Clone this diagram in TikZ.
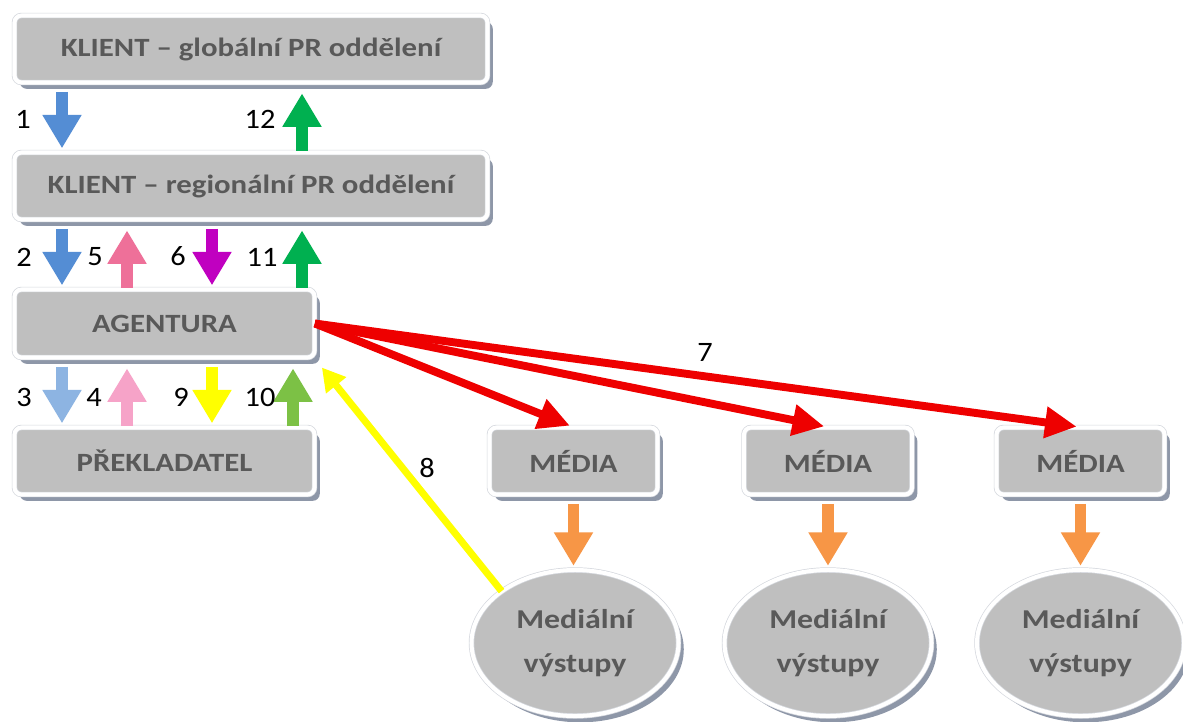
\documentclass[tikz,border=0pt]{standalone}
\usepackage{fontspec}
\setmainfont{Carlito}
\newfontfamily\boxfont[FakeStretch=1.17]{Carlito}
\newfontfamily\numfont[FakeStretch=1.08]{Carlito}
\usetikzlibrary{arrows.meta,shadows,shapes.geometric}
\definecolor{boxgray}{HTML}{BFBFBF}
\definecolor{boxtext}{HTML}{595959}
\definecolor{shadowc}{HTML}{8E97A8}
\definecolor{edgec}{HTML}{D5D8DE}
\definecolor{blueA}{HTML}{548DD4}
\definecolor{blueB}{HTML}{8DB4E2}
\definecolor{pinkA}{HTML}{EE7099}
\definecolor{pinkB}{HTML}{F6A3C8}
\definecolor{purpleA}{HTML}{C000C0}
\definecolor{greenA}{HTML}{00B050}
\definecolor{greenB}{HTML}{7CC145}
\definecolor{yellowA}{HTML}{FFFF00}
\definecolor{orangeA}{HTML}{F79646}
\definecolor{redA}{HTML}{EE0000}
\newcommand{\pxl}{0.02cm}
\begin{document}
\begin{tikzpicture}[x=0.02cm, y=-0.02cm,
  box/.style={rectangle, rounded corners=4pt, fill=boxgray, draw=edgec, line width=0.4pt,
    double=white, double distance=2.3pt, inner sep=0pt, text=boxtext,
    font=\boxfont\bfseries\fontsize{15}{17}\selectfont,
    drop shadow={shadow xshift=3pt, shadow yshift=-3.6pt, fill=shadowc, opacity=1}},
  oval/.style={box, ellipse, rounded corners=0pt, align=center,
    font=\boxfont\bfseries\fontsize{15.5}{25}\selectfont},
  fatdown/.style={line width=6.8pt, -{Triangle[width=21pt,length=19pt]}, shorten <=5.2pt, shorten >=2.2pt},
  fatup/.style={line width=6.8pt, -{Triangle[width=21pt,length=19pt]}, shorten <=0.8pt, shorten >=6pt},
  num/.style={font=\numfont\fontsize{16}{18}\selectfont, inner sep=0pt, text=black},
  redarrow/.style={draw=redA, line width=4.5pt, -{Triangle[width=17pt,length=18pt]}, shorten >=2.2pt},
  yelarrow/.style={draw=yellowA, line width=4pt, -{Triangle[width=14pt,length=13pt]}},
]
\path[use as bounding box, fill=white] (0,0) rectangle (1183,721);

% boxes
\node[box, minimum width=473*\pxl, minimum height=67*\pxl] (g) at (251,49) {KLIENT – globální PR oddělení};
\node[box, minimum width=473*\pxl, minimum height=67*\pxl] (r) at (251,186) {KLIENT – regionální PR oddělení};
\node[box, minimum width=300*\pxl, minimum height=68*\pxl] (a) at (164.5,323.5) {AGENTURA};
\node[box, minimum width=300*\pxl, minimum height=67*\pxl] (p) at (164.5,461) {PŘEKLADATEL};
\node[box, minimum width=168*\pxl, minimum height=67*\pxl] (m1) at (573.5,461) {MÉDIA};
\node[box, minimum width=168*\pxl, minimum height=67*\pxl] (m2) at (828,461) {MÉDIA};
\node[box, minimum width=168*\pxl, minimum height=67*\pxl] (m3) at (1080.5,461) {MÉDIA};
\node[oval, minimum width=207*\pxl, minimum height=146*\pxl] (e1) at (575,643) {Mediální\\výstupy};
\node[oval, minimum width=207*\pxl, minimum height=146*\pxl] (e2) at (828,643) {Mediální\\výstupy};
\node[oval, minimum width=207*\pxl, minimum height=146*\pxl] (e3) at (1080.5,643) {Mediální\\výstupy};

% columns for the fat arrows
\coordinate (c1) at (62,0);
\coordinate (c2) at (127,0);
\coordinate (c3) at (212,0);
\coordinate (c4) at (302,0);
\coordinate (c5) at (293,0);

\draw[fatdown, blueA] (g.south -| c1) -- (r.north -| c1);
\draw[fatup, greenA] (r.north -| c4) -- (g.south -| c4);
\draw[fatdown, blueA] (r.south -| c1) -- (a.north -| c1);
\draw[fatup, pinkA] (a.north -| c2) -- (r.south -| c2);
\draw[fatdown, purpleA] (r.south -| c3) -- (a.north -| c3);
\draw[fatup, greenA] (a.north -| c4) -- (r.south -| c4);
\draw[fatdown, blueB] (a.south -| c1) -- (p.north -| c1);
\draw[fatup, pinkB] (p.north -| c2) -- (a.south -| c2);
\draw[fatdown, yellowA] (a.south -| c3) -- (p.north -| c3);
\draw[fatup, greenB] (p.north -| c5) -- (a.south -| c5);

\draw[fatdown, orangeA] (m1.south) -- (m1.south |- e1.north);
\draw[fatdown, orangeA] (m2.south) -- (e2.north);
\draw[fatdown, orangeA] (m3.south) -- (e3.north);

\draw[redarrow] (a.east) -- (m1.north);
\draw[redarrow] (a.east) -- (m2.north);
\draw[redarrow] (a.east) -- (m3.north);

\draw[yelarrow] (e1.north west) -- ([xshift=4pt, yshift=-5.5pt]a.south east);

% labels
\node[num] (n1) at (23,119) {1};
\node[num] (n12) at (260,119) {12};
\node[num] (n2) at (24,257) {2};
\node[num] (n5) at (95,257) {5};
\node[num] (n6) at (178,256) {6};
\node[num] (n11) at (262,257) {11};
\node[num] (n3) at (24,397) {3};
\node[num] (n4) at (94,397) {4};
\node[num] (n9) at (181,397) {9};
\node[num] (n10) at (260,397) {10};
\node[num] (n8) at (427,468) {8};
\node[num] (n7) at (705,352) {7};
\end{tikzpicture}
\end{document}
